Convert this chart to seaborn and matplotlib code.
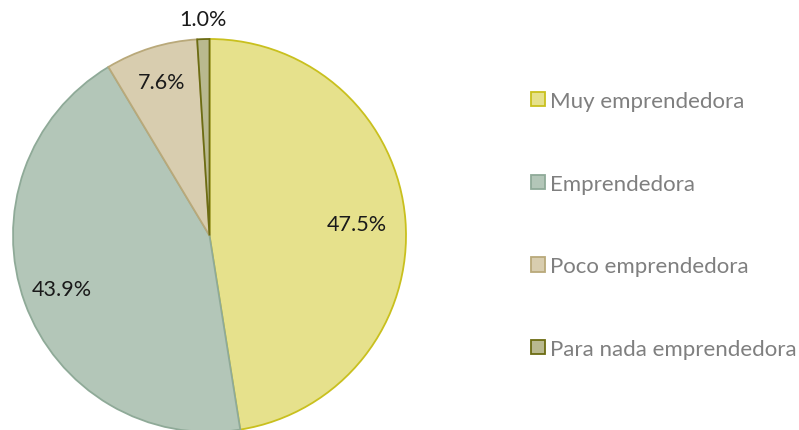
# -*- coding: utf-8 -*-
import matplotlib
matplotlib.use('Agg')
import matplotlib.pyplot as plt
import seaborn as sns

categories = ['Muy emprendedora', 'Emprendedora', 'Poco emprendedora', 'Para nada emprendedora']
values = [47.5, 43.9, 7.6, 1.0]
fill_colors = ['#E6E18C', '#B3C6B8', '#D8CDAF', '#B9B98F']
edge_colors = ['#C9C01E', '#8FAA98', '#B9A97A', '#6C6C12']
label_radius = [0.75, 0.80, 0.82, 1.10]

sns.set_theme(style='white')
plt.rcParams['font.family'] = ['Lato', 'DejaVu Sans']

fig = plt.figure(figsize=(7.99, 4.31), dpi=100)
ax = fig.add_axes([13 / 799, -2 / 431, 393 / 799, 393 / 431])

wedges, texts, autotexts = ax.pie(
    values, colors=fill_colors, startangle=90, counterclock=False,
    autopct='%.1f%%', pctdistance=1.0,
    wedgeprops=dict(linewidth=1.3),
    textprops=dict(fontsize=15.5, color='#1a1a1a'))
for w, ec in zip(wedges, edge_colors):
    w.set_edgecolor(ec)
for t, r in zip(autotexts, label_radius):
    x, y = t.get_position()
    t.set_position((x * r, y * r))
ax.set_xlim(-1, 1)
ax.set_ylim(-1, 1)

leg = fig.legend(wedges, categories, loc='upper left', bbox_to_anchor=(520 / 799, 1 - 81 / 431),
                 frameon=False, fontsize=16, labelcolor='#7F7F7F',
                 handlelength=0.62, handleheight=0.62, handletextpad=0.25,
                 labelspacing=2.82, borderpad=0)

fig.savefig('out.png', dpi=100)
